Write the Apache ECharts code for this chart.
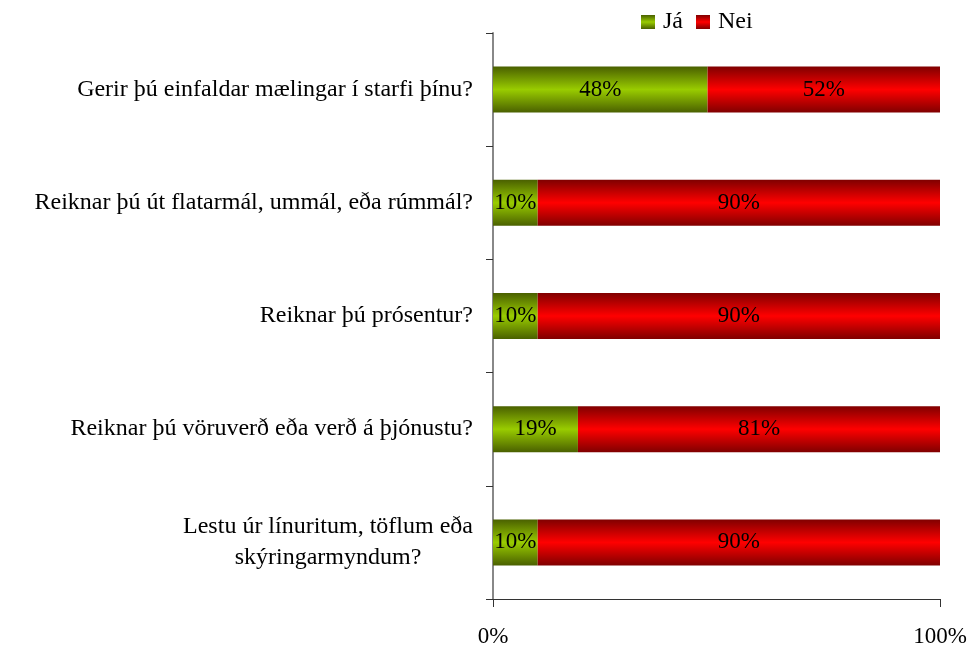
<!DOCTYPE html>
<html>
<head>
<meta charset="utf-8">
<script src="https://cdn.jsdelivr.net/npm/echarts@6/dist/echarts.min.js"></script>
<style>
  html, body { margin: 0; padding: 0; background: #fff; }
  #chart { width: 968px; height: 650px; }
</style>
</head>
<body>
<div id="chart"></div>
<script>
var categories = [
  'Gerir þú einfaldar mælingar í starfi þínu?',
  'Reiknar þú út flatarmál, ummál, eða rúmmál?',
  'Reiknar þú prósentur?',
  'Reiknar þú vöruverð eða verð á þjónustu?',
  'Lestu úr línuritum, töflum eða\nskýringarmyndum?'
];
var jaValues = [48, 10, 10, 19, 10];
var neiValues = [52, 90, 90, 81, 90];
var xTicks = ['0%', '100%'];

var FONT = '"Liberation Serif", "Times New Roman", serif';

function grad(edge, mid) {
  return new echarts.graphic.LinearGradient(0, 0, 0, 1, [
    { offset: 0, color: edge },
    { offset: 0.5, color: mid },
    { offset: 1, color: edge }
  ]);
}

var barLabel = {
  show: true,
  position: 'inside',
  fontFamily: FONT,
  fontSize: 23,
  color: '#000',
  formatter: '{c}%'
};

var chart = echarts.init(document.getElementById('chart'));
chart.setOption({
  animation: false,
  textStyle: { fontFamily: FONT },
  legend: {
    top: 10,
    left: 641,
    padding: 0,
    itemWidth: 14,
    itemHeight: 14,
    itemGap: 13,
    icon: 'rect',
    textStyle: { fontFamily: FONT, fontSize: 24, color: '#000', padding: [0, 0, 0, 3] },
    data: ['Já', 'Nei']
  },
  grid: { left: 493, right: 28, top: 33, bottom: 51, containLabel: false, outerBoundsMode: 'none' },
  xAxis: {
    type: 'value',
    min: 0,
    max: 100,
    interval: 100,
    axisLine: { show: true, lineStyle: { color: '#333', width: 1 } },
    axisTick: { show: true, length: 8, lineStyle: { color: '#333' } },
    splitLine: { show: false },
    axisLabel: {
      margin: 26,
      fontFamily: FONT,
      fontSize: 23,
      color: '#000',
      formatter: function (v) { return v === 0 ? xTicks[0] : xTicks[1]; }
    }
  },
  yAxis: {
    type: 'category',
    inverse: true,
    data: categories,
    axisLine: { show: true, lineStyle: { color: '#888', width: 2 } },
    axisTick: { show: true, length: 7, lineStyle: { color: '#333' } },
    axisLabel: {
      margin: 20,
      fontFamily: FONT,
      fontSize: 24,
      color: '#000',
      formatter: function (v) { return '{c|' + v + '}'; },
      rich: { c: { align: 'center', fontFamily: FONT, fontSize: 24, color: '#000', lineHeight: 31 } }
    }
  },
  series: [
    {
      name: 'Já',
      type: 'bar',
      stack: 'total',
      barWidth: 46,
      data: jaValues,
      itemStyle: { color: grad('#4a6000', '#99cc00') },
      label: barLabel
    },
    {
      name: 'Nei',
      type: 'bar',
      stack: 'total',
      barWidth: 46,
      data: neiValues,
      itemStyle: { color: grad('#800000', '#ff0000') },
      label: barLabel
    }
  ]
});
</script>
</body>
</html>
